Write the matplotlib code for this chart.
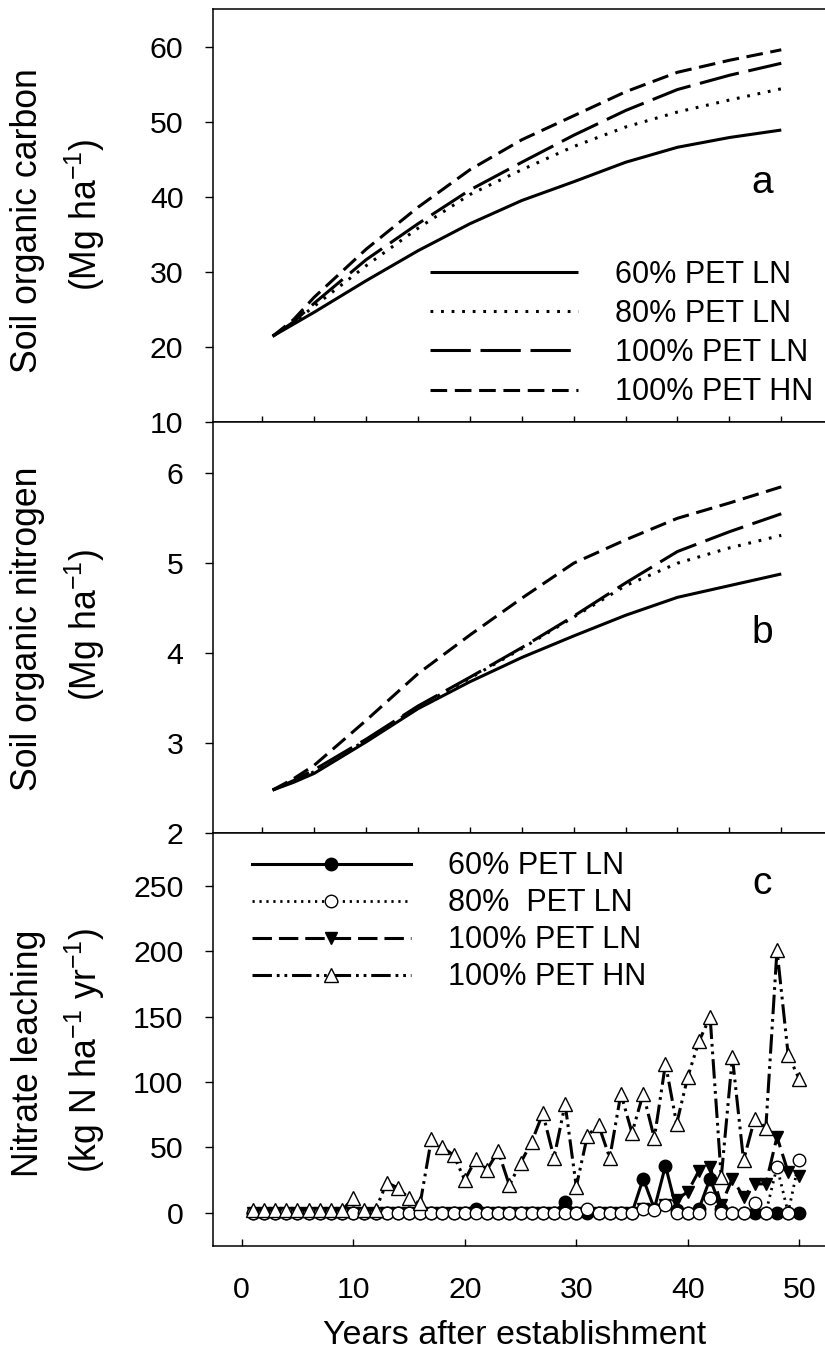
import matplotlib
matplotlib.use("Agg")
from matplotlib import pyplot as plt

# DATA
years_ab = [1, 3, 5, 10, 15, 20, 25, 30, 35, 40, 45, 50]
soc_60 = [21.4, 23.0, 24.6, 28.8, 32.8, 36.4, 39.5, 42.0, 44.6, 46.6, 47.9, 48.9]
soc_80 = [21.4, 23.2, 25.4, 30.8, 35.8, 40.3, 43.6, 46.7, 49.3, 51.3, 52.9, 54.4]
soc_100ln = [21.4, 23.3, 25.8, 31.6, 36.4, 40.9, 44.6, 48.2, 51.5, 54.3, 56.2, 57.8]
soc_100hn = [21.4, 23.6, 26.6, 33.0, 38.6, 43.6, 47.6, 50.8, 54.0, 56.6, 58.2, 59.6]

son_60 = [2.475, 2.56, 2.66, 3.01, 3.38, 3.68, 3.95, 4.19, 4.42, 4.62, 4.75, 4.88]
son_80 = [2.475, 2.57, 2.68, 3.03, 3.40, 3.72, 4.05, 4.40, 4.75, 5.00, 5.17, 5.31]
son_100ln = [2.475, 2.58, 2.70, 3.04, 3.41, 3.73, 4.06, 4.41, 4.78, 5.13, 5.35, 5.55]
son_100hn = [2.475, 2.60, 2.75, 3.25, 3.77, 4.20, 4.61, 5.00, 5.26, 5.50, 5.67, 5.85]

years_c = list(range(1, 51))
no3_60 = [0, 0, 0, 0, 0, 0, 0, 0, 0, 0,
          0, 0, 0, 0, 0, 0, 0, 0, 0, 0,
          3, 0, 0, 0, 0, 0, 0, 0, 8, 0,
          0, 0, 0, 0, 0, 26, 3, 36, 2, 0,
          3, 26, 3, 0, 0, 0, 0, 0, 0, 0]
no3_80 = [0, 0, 0, 0, 0, 0, 0, 0, 0, 0,
          0, 0, 0, 0, 0, 0, 0, 0, 0, 0,
          0, 0, 0, 0, 0, 0, 0, 0, 0, 0,
          3, 0, 0, 0, 0, 3, 2, 6, 0, 0,
          0, 11, 0, 0, 0, 7, 0, 35, 0, 40]
no3_100ln = [0, 0, 0, 0, 0, 0, 0, 0, 0, 0,
             0, 0, 0, 0, 0, 0, 0, 0, 0, 0,
             0, 0, 0, 0, 0, 0, 0, 0, 0, 0,
             0, 0, 0, 0, 0, 3, 2, 6, 10, 16,
             32, 35, 6, 26, 12, 22, 22, 58, 31, 28]
no3_100hn = [2, 2, 2, 2, 2, 2, 2, 2, 2, 11,
             2, 2, 23, 19, 11, 7, 56, 50, 44, 25,
             41, 33, 47, 21, 38, 54, 76, 42, 83, 20,
             59, 67, 42, 91, 61, 91, 57, 114, 68, 104,
             131, 150, 27, 119, 40, 72, 65, 201, 121, 102]

labels_ab = ["60% PET LN", "80% PET LN", "100% PET LN", "100% PET HN"]
labels_c = ["60% PET LN", "80%  PET LN", "100% PET LN", "100% PET HN"]

# STYLE
plt.rcParams["font.family"] = ["Liberation Sans", "DejaVu Sans"]
plt.rcParams["mathtext.fontset"] = "custom"
plt.rcParams["mathtext.rm"] = "Liberation Sans"
plt.rcParams["mathtext.it"] = "Liberation Sans"
plt.rcParams["lines.scale_dashes"] = False
plt.rcParams["axes.linewidth"] = 1.1

W, H = 825, 1366
fig = plt.figure(figsize=(W / 100, H / 100), dpi=100)

left = 213.3 / W
width = 615.1 / W
ax_a = fig.add_axes([left, 1 - 421.7 / H, width, 412.4 / H])
ax_b = fig.add_axes([left, 1 - 832.7 / H, width, 411.0 / H])
ax_c = fig.add_axes([left, 1 - 1245.7 / H, width, 413.0 / H])

dash_solid = (0, ())
dash_dot = (0, (2.0, 5.6))
dash_long = (0, (29, 7))
dash_short = (0, (12, 5.5))

# PANEL A & B
for ax, series in [(ax_a, [soc_60, soc_80, soc_100ln, soc_100hn]),
                   (ax_b, [son_60, son_80, son_100ln, son_100hn])]:
    styles = [dash_solid, dash_dot, dash_long, dash_short]
    for vals, ls, lab in zip(series, styles, labels_ab):
        ax.plot(years_ab, vals, color="black", lw=2.2, linestyle=ls, label=lab)
    ax.set_xlim(-4.72, 54.54)
    ax.set_xticks(range(0, 55, 5))
    ax.tick_params(axis="x", direction="in", length=4.2, width=1, labelbottom=False)
    ax.tick_params(axis="y", direction="out", length=5.5, width=1, pad=16, labelsize=21.8)
    ax.spines["right"].set_visible(False)

ax_a.set_ylim(10, 65)
ax_a.set_yticks(range(10, 70, 10))
ax_b.set_ylim(2, 6.575)
ax_b.set_yticks([2, 3, 4, 5, 6])

ax_a.legend(loc="lower left", bbox_to_anchor=(0.352, 0.035), frameon=False,
            fontsize=22, handlelength=4.85, handletextpad=1.2, labelspacing=0.30,
            borderpad=0, borderaxespad=0)

ax_a.text(0.892, 0.578, "a", transform=ax_a.transAxes, fontsize=28, ha="center", va="center")
ax_b.text(0.892, 0.487, "b", transform=ax_b.transAxes, fontsize=28, ha="center", va="center")

# PANEL C
ax_c.plot(years_c, no3_60, color="black", lw=2.2, linestyle="-", marker="o",
          markersize=9, markerfacecolor="black", label=labels_c[0])
ax_c.plot(years_c, no3_100ln, color="black", lw=2.2, linestyle=(0, (14, 5)), marker="v",
          markersize=9, markerfacecolor="black", label=labels_c[2])
ax_c.plot(years_c, no3_80, color="black", lw=2.0, linestyle=(0, (1.6, 3.4)), marker="o",
          markersize=9, markerfacecolor="white", markeredgewidth=1, label=labels_c[1])
ax_c.plot(years_c, no3_100hn, color="black", lw=2.2,
          linestyle=(0, (14, 3.5, 2, 3.5, 2, 3.5)), marker="^",
          markersize=10, markerfacecolor="white", markeredgewidth=1, label=labels_c[3])

ax_c.set_xlim(-2.55, 52.61)
ax_c.set_ylim(-25.3, 290.8)
ax_c.set_xticks(range(0, 60, 10))
ax_c.set_yticks(range(0, 300, 50))
ax_c.tick_params(axis="x", direction="in", length=5, width=1, pad=22, labelsize=21.8)
ax_c.tick_params(axis="y", direction="out", length=5.5, width=1, pad=16, labelsize=21.8)
ax_c.spines["right"].set_visible(False)

h, l = ax_c.get_legend_handles_labels()
order = [0, 2, 1, 3]
ax_c.legend([h[i] for i in order], [l[i] for i in order], loc="upper left",
            bbox_to_anchor=(0.063, 0.955), frameon=False, fontsize=22,
            handlelength=5.2, handletextpad=1.2, labelspacing=0.23,
            borderpad=0, borderaxespad=0, numpoints=1)
ax_c.text(0.892, 0.876, "c", transform=ax_c.transAxes, fontsize=28, ha="center", va="center")

# Y LABELS
fig.text(28 / W, 1 - 221 / H, "Soil organic carbon", rotation=90, fontsize=25.7,
         ha="center", va="center")
fig.text(85 / W, 1 - 215 / H, "(Mg ha$^{-1}$)", rotation=90, fontsize=25.7,
         ha="center", va="center")
fig.text(28 / W, 1 - 629 / H, "Soil organic nitrogen", rotation=90, fontsize=25.7,
         ha="center", va="center")
fig.text(85 / W, 1 - 625 / H, "(Mg ha$^{-1}$)", rotation=90, fontsize=25.7,
         ha="center", va="center")
fig.text(28 / W, 1 - 1053 / H, "Nitrate leaching", rotation=90, fontsize=25.7,
         ha="center", va="center")
fig.text(85 / W, 1 - 1050 / H, "(kg N ha$^{-1}$ yr$^{-1}$)", rotation=90, fontsize=25.7,
         ha="center", va="center")

# X LABEL
fig.text(514.5 / W, 1 - 1344 / H, "Years after establishment", fontsize=24.5,
         ha="center", va="baseline")

fig.savefig("out.png", dpi=100)
